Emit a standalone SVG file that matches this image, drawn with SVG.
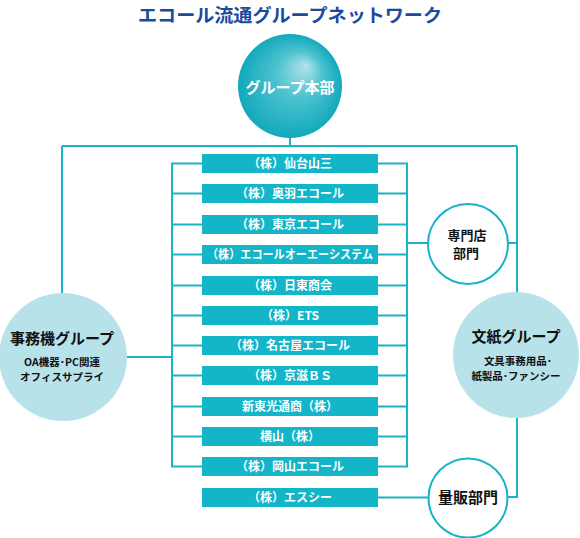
<svg xmlns="http://www.w3.org/2000/svg" width="580" height="538" viewBox="0 0 580 538">
<defs>
<radialGradient id="hq" cx="0.5" cy="0.5" r="0.5" fx="0.66" fy="0.3">
<stop offset="0" stop-color="#b4e2ea"/>
<stop offset="0.45" stop-color="#4cc2d0"/>
<stop offset="1" stop-color="#12a9bb"/>
</radialGradient>
<style>
.t{font-family:"Noto Sans CJK JP","Noto Sans",sans-serif;}
.box rect{fill:#13b5c8;}
.box text{fill:#fff;font-size:12px;font-weight:700;text-anchor:middle;}
.ln{fill:none;stroke:#1ab4c8;stroke-width:2;}
.grp{fill:#b8e2ea;}
.dept{fill:#fff;stroke:#1ab4c8;stroke-width:2;}
.dk{fill:#111;text-anchor:middle;}
</style>
</defs>
<rect width="580" height="538" fill="#fff"/>
<text class="t" x="290" y="21.5" text-anchor="middle" font-size="18.5" font-weight="700" fill="#1b4a9e" textLength="304" lengthAdjust="spacingAndGlyphs">エコール流通グループネットワーク</text>

<g id="connectors" class="ln">
<path d="M290 136V146M62 146H517M62 146V293M517 146V292"/>
<path d="M202 163.5H172V466.5H202M172 193.5H202M172 224.5H202M172 254.5H202M172 285.5H202M172 315.5H202M172 345.5H202M172 375.5H202M172 406.5H202M172 436.5H202"/>
<path d="M127 357H172"/>
<path d="M378 163.5H407V466.5H378M378 193.5H407M378 224.5H407M378 254.5H407M378 285.5H407M378 315.5H407M378 345.5H407M378 375.5H407M378 406.5H407M378 436.5H407"/>
<path d="M407 243H428M508 243H517"/>
<path d="M517 418V497H508"/>
<path d="M378 497.5H429"/>
</g>

<g id="hq">
<circle cx="290" cy="86" r="52" fill="url(#hq)"/>
<text class="t" x="290" y="93" text-anchor="middle" font-size="15" font-weight="700" fill="#fff">グループ本部</text>
</g>

<g id="jimuki">
<circle class="grp" cx="63" cy="357" r="64"/>
<text class="t dk" x="62" y="344" font-size="15" font-weight="700">事務機グループ</text>
<text class="t dk" x="62" y="366" font-size="10.5" font-weight="700">OA機器･PC関連</text>
<text class="t dk" x="62" y="381" font-size="10.5" font-weight="700">オフィスサプライ</text>
</g>

<g id="bunshi">
<circle class="grp" cx="516" cy="355" r="63"/>
<text class="t dk" x="516" y="342" font-size="15" font-weight="700">文紙グループ</text>
<text class="t dk" x="518" y="365" font-size="10.5" font-weight="700">文具事務用品･</text>
<text class="t dk" x="516" y="380" font-size="10.5" font-weight="700">紙製品･ファンシー</text>
</g>

<g id="senmon">
<circle class="dept" cx="468" cy="244" r="40"/>
<text class="t dk" x="467" y="240" font-size="13" font-weight="700">専門店</text>
<text class="t dk" x="466" y="258" font-size="13" font-weight="700">部門</text>
</g>

<g id="ryohan">
<circle class="dept" cx="468" cy="498" r="39.5"/>
<text class="t dk" x="468" y="503" font-size="15" font-weight="700">量販部門</text>
</g>

<g id="b1" class="box t"><rect x="202" y="154" width="176" height="19"/><text x="290" y="168">（株）仙台山三</text></g>
<g id="b2" class="box t"><rect x="202" y="184" width="176" height="19"/><text x="290" y="198">（株）奥羽エコール</text></g>
<g id="b3" class="box t"><rect x="202" y="215" width="176" height="19"/><text x="290" y="229">（株）東京エコール</text></g>
<g id="b4" class="box t"><rect x="202" y="245" width="176" height="19"/><text x="290" y="259" textLength="166" lengthAdjust="spacingAndGlyphs">（株）エコールオーエーシステム</text></g>
<g id="b5" class="box t"><rect x="202" y="276" width="176" height="19"/><text x="290" y="290">（株）日東商会</text></g>
<g id="b6" class="box t"><rect x="202" y="306" width="176" height="19"/><text x="290" y="320">（株）ETS</text></g>
<g id="b7" class="box t"><rect x="202" y="336" width="176" height="19"/><text x="290" y="350">（株）名古屋エコール</text></g>
<g id="b8" class="box t"><rect x="202" y="366" width="176" height="19"/><text x="290" y="380">（株）京滋ＢＳ</text></g>
<g id="b9" class="box t"><rect x="202" y="397" width="176" height="19"/><text x="290" y="411">新東光通商（株）</text></g>
<g id="b10" class="box t"><rect x="202" y="427" width="176" height="19"/><text x="290" y="441">横山（株）</text></g>
<g id="b11" class="box t"><rect x="202" y="457" width="176" height="19"/><text x="290" y="471">（株）岡山エコール</text></g>
<g id="b12" class="box t"><rect x="202" y="488" width="176" height="19"/><text x="290" y="502">（株）エスシー</text></g>
</svg>
